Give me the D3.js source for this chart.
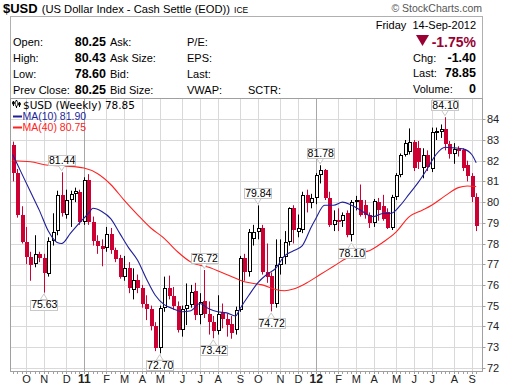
<!DOCTYPE html>
<html>
<head>
<meta charset="utf-8">
<script src="https://cdn.jsdelivr.net/npm/d3@7"></script>
<style>
  body { margin: 0; background: #fff; }
  svg { display: block; }
</style>
</head>
<body>
<div id="chart"></div>
<script>
// weekly bars, week of 13-Sep-2010 .. week of 10-Sep-2012
var opens = [82.76,81.42,79.40,78.09,77.33,76.99,77.48,77.30,76.55,78.10,
             78.60,80.34,79.40,80.10,80.38,80.50,79.05,81.07,79.05,78.10,
             77.90,77.80,78.48,77.70,77.30,76.40,76.80,75.75,76.24,75.85,
             75.10,74.85,74.00,72.93,74.87,75.83,75.45,75.00,73.82,74.82,
             75.03,75.70,74.55,75.20,74.60,74.20,73.75,74.70,74.35,74.10,
             73.82,74.80,77.28,76.64,78.20,78.57,78.73,76.64,76.43,75.10,
             76.96,77.35,78.09,79.70,78.57,78.65,80.34,79.94,80.18,81.30,
             81.55,80.20,78.90,79.13,79.10,79.45,78.40,80.00,80.10,79.85,
             79.38,79.00,80.00,79.80,79.50,78.75,80.26,81.30,82.27,82.44,
             82.90,82.60,81.65,82.27,81.60,83.37,83.40,83.55,82.80,82.30,
             82.55,82.50,81.80,81.25,80.25];
var highs = [82.92,81.60,79.80,78.80,77.60,78.40,77.60,77.50,78.30,79.46,
             80.55,81.44,80.60,80.55,80.70,80.60,81.20,81.35,79.30,78.40,
             78.20,78.80,78.75,77.80,77.45,77.40,77.10,76.80,76.50,76.00,
             75.50,75.00,74.20,75.00,76.40,76.45,75.90,75.20,75.00,76.07,
             76.00,76.10,75.60,76.72,75.20,74.50,75.50,75.10,74.60,74.50,
             74.95,77.40,77.50,78.70,78.90,79.84,78.90,78.00,76.60,78.20,
             78.20,78.60,79.75,79.85,79.40,80.50,80.60,80.40,81.40,81.78,
             81.60,80.50,79.60,79.70,79.50,79.60,80.10,80.30,80.85,80.10,
             79.50,80.15,80.20,80.35,79.70,80.35,81.40,82.35,83.00,83.56,
             83.00,82.95,82.60,82.50,83.60,83.60,83.75,84.10,82.95,82.85,
             82.70,82.60,82.00,81.40,80.43];
var lows  = [81.00,79.25,78.00,77.00,76.20,76.85,77.10,75.63,76.40,77.90,
             78.40,79.30,79.20,78.80,80.00,78.90,78.90,78.90,77.90,77.50,
             76.90,77.60,77.50,77.10,76.30,76.20,75.60,75.30,75.60,74.90,
             74.30,73.80,72.80,72.70,74.70,75.30,74.80,73.70,73.50,74.06,
             74.90,74.30,74.10,74.40,73.60,73.42,73.60,73.90,73.50,73.40,
             73.60,74.70,76.20,76.40,77.90,78.20,76.50,76.10,74.72,74.90,
             76.50,77.00,77.90,78.00,78.30,78.50,79.50,79.70,79.90,80.90,
             80.10,78.80,78.60,78.60,78.80,78.30,78.10,79.60,79.30,79.20,
             78.75,78.80,79.10,79.10,78.70,78.65,80.10,81.20,82.20,82.30,
             81.50,81.60,81.15,81.50,81.45,83.00,83.10,82.50,82.10,81.85,
             82.20,81.50,81.00,80.00,78.60];
var closes = [81.42,79.38,78.09,77.33,76.95,77.48,77.30,76.56,78.10,78.55,
             80.34,79.46,80.10,80.37,80.55,79.05,81.07,79.05,78.10,77.90,
             77.75,78.48,77.68,77.27,76.40,76.80,75.85,76.24,75.85,75.10,
             74.85,74.00,72.93,74.87,75.83,75.45,75.00,73.82,74.85,75.03,
             75.67,74.55,75.19,74.60,74.20,73.75,74.60,74.35,74.05,73.66,
             74.80,77.28,76.64,78.57,78.57,78.73,76.64,76.40,75.10,76.96,
             77.35,78.09,79.70,78.65,78.73,80.34,79.94,80.18,81.30,81.55,
             80.20,78.90,79.13,79.10,79.37,78.40,80.00,80.10,79.40,79.38,
             79.00,80.05,79.60,79.20,78.75,80.26,81.30,82.27,82.84,82.90,
             81.65,81.95,82.27,81.70,83.40,83.45,83.55,82.80,82.30,82.55,
             82.45,81.65,81.25,80.25,78.85];

// moving averages (bar index, value)
var ma10Idx = [0,2,4,6,8,10,11,13,15,17,18,20,22,24,26,28,30,32,34,36,38,40,42,44,46,
               48,50,51,53,55,57,59,61,63,65,67,68,70,72,74,76,78,80,81,83,85,87,89,
               91,93,95,97,99,101,103,104];
var ma10Val = [82.30,81.40,80.50,79.60,78.60,78.05,78.00,78.50,79.00,79.45,79.70,79.55,
               79.20,78.50,77.80,77.20,76.30,75.50,75.05,74.85,74.70,74.75,75.10,74.85,
               74.70,74.65,74.50,74.85,75.50,76.10,76.50,76.80,77.40,77.65,77.90,78.80,
               79.20,79.85,79.85,80.00,79.85,79.62,79.35,79.30,79.45,79.46,79.85,80.40,
               80.95,81.60,82.30,82.65,82.62,82.57,82.30,81.90];
var ma40Idx = [0,4,8,12,16,19,22,25,28,31,34,37,40,44,48,52,56,59,61,63,66,69,72,75,
               78,80,83,86,89,92,94,97,100,102,104];
var ma40Val = [82.00,81.95,81.78,81.74,81.65,81.38,80.85,80.10,79.40,78.75,78.25,77.60,
               77.10,76.85,76.50,76.15,76.00,75.78,75.72,75.80,76.10,76.50,76.90,77.30,
               77.55,77.65,78.05,78.55,79.30,79.62,79.85,80.30,80.70,80.78,80.75];

var monthIdx = [3,7,12,16,21,25,29,33,38,42,46,51,55,60,64,68,73,77,81,86,90,94,99,103];
var monthLabels = ["O","N","D","11","F","M","A","M","J","J","A","S",
                   "O","N","D","12","F","M","A","M","J","J","A","S"];
var yTicks = [72,73,74,75,76,77,78,79,80,81,82,83,84];
var peakIdx = [11,43,55,69,97];
var troughIdx = [7,33,45,58,76];

var w = 508, h = 389;
var pLeft = 10.5, pRight = 482.5, pTop = 98.5, pBottom = 371.5;
var red = "#cc0033";
var sans = "'Liberation Sans', Arial, sans-serif";

var svg = d3.select("#chart").append("svg")
  .attr("width", w)
  .attr("height", h);

var x = d3.scaleLinear().domain([0, closes.length - 1]).range([12.63, 476.2]);
var y = d3.scaleLinear().domain([72, 84]).range([367.7, 119.3]);

// ---- title + header box
var title = svg.append("text").attr("x", 3).attr("y", 13)
  .attr("font-family", sans).attr("fill", "#000");
title.append("tspan").attr("font-size", "13px").attr("font-weight", "bold").text("$USD");
title.append("tspan").attr("font-size", "11.2px").attr("dx", 4).text("(US Dollar Index - Cash Settle (EOD))");
title.append("tspan").attr("font-size", "8.5px").attr("dx", 4).text("ICE");

svg.append("text").attr("x", 482).attr("y", 12)
  .attr("text-anchor", "end").attr("font-family", sans).attr("font-size", "10.5px")
  .attr("fill", "#555").text("\u00A9 StockCharts.com");

svg.append("rect").attr("x", pLeft).attr("y", 16.5)
  .attr("width", pRight - pLeft).attr("height", pTop - 16.5)
  .attr("fill", "#fff").attr("stroke", "#b0b0b0");

var rows = [46, 62, 78, 94];
var col1 = ["Open:", "High:", "Low:", "Prev Close:"];
var col1v = ["80.25", "80.43", "78.60", "80.25"];
var col2 = ["Ask:", "Ask Size:", "Bid:", "Bid Size:"];
var col3 = ["P/E:", "EPS:", "Last:", "VWAP:"];

var head = svg.append("g").attr("font-family", sans).attr("font-size", "11px").attr("fill", "#000");
rows.forEach(function(ry, k) {
  head.append("text").attr("x", 13).attr("y", ry).text(col1[k]);
  head.append("text").attr("x", 106).attr("y", ry).attr("text-anchor", "end")
    .attr("font-weight", "bold").attr("font-size", "12.5px").text(col1v[k]);
  head.append("text").attr("x", 110).attr("y", ry).text(col2[k]);
  head.append("text").attr("x", 187).attr("y", ry).text(col3[k]);
});
head.append("text").attr("x", 248).attr("y", 94).text("SCTR:");

head.append("text").attr("x", 476).attr("y", 29).attr("text-anchor", "end")
  .attr("xml:space", "preserve").text("Friday  14-Sep-2012");
head.append("path")
  .attr("d", "M416,35 L429,35 L422.5,46 Z").attr("fill", "#990033");
head.append("text").attr("x", 476).attr("y", 46.5).attr("text-anchor", "end")
  .attr("font-weight", "bold").attr("font-size", "14px").attr("fill", "#990033").text("-1.75%");
[["Chg:", "-1.40", 61.5], ["Last:", "78.85", 77], ["Volume:", "0", 92.5]].forEach(function(r) {
  head.append("text").attr("x", 413).attr("y", r[2]).text(r[0]);
  head.append("text").attr("x", 476).attr("y", r[2]).attr("text-anchor", "end")
    .attr("font-weight", "bold").attr("font-size", "12.5px").text(r[1]);
});

// ---- plot frame + grid
var plot = svg.append("g");
plot.append("rect").attr("x", pLeft).attr("y", pTop)
  .attr("width", pRight - pLeft).attr("height", pBottom - pTop).attr("fill", "#fff");

plot.selectAll(".hgrid").data(yTicks).enter().append("line")
  .attr("x1", pLeft).attr("x2", pRight)
  .attr("y1", function(d) { return Math.round(y(d)) + 0.5; })
  .attr("y2", function(d) { return Math.round(y(d)) + 0.5; })
  .attr("stroke", "#d9d9d9");

plot.selectAll(".vgrid").data(monthIdx).enter().append("line")
  .attr("x1", function(d) { return Math.round(x(d)) + 0.5; })
  .attr("x2", function(d) { return Math.round(x(d)) + 0.5; })
  .attr("y1", pTop).attr("y2", pBottom)
  .attr("stroke", function(d, i) { return monthLabels[i].length > 1 ? "#a8a8a8" : "#d9d9d9"; });

plot.append("rect").attr("x", pLeft).attr("y", pTop)
  .attr("width", pRight - pLeft).attr("height", pBottom - pTop)
  .attr("fill", "none").attr("stroke", "#a0a0a0");

// right axis
var yAxis = svg.append("g").attr("font-family", sans).attr("font-size", "11px").attr("fill", "#222");
yAxis.selectAll("line").data(yTicks).enter().append("line")
  .attr("x1", pRight).attr("x2", pRight + 3)
  .attr("y1", function(d) { return Math.round(y(d)) + 0.5; })
  .attr("y2", function(d) { return Math.round(y(d)) + 0.5; })
  .attr("stroke", "#a0a0a0");
yAxis.selectAll("text").data(yTicks).enter().append("text")
  .attr("x", 487).attr("y", function(d) { return y(d) + 4; })
  .text(function(d) { return d; });

// bottom axis: weekly ticks + month labels
var xAxis = svg.append("g");
xAxis.selectAll("line").data(d3.range(closes.length)).enter().append("line")
  .attr("x1", function(d) { return Math.round(x(d)) + 0.5; })
  .attr("x2", function(d) { return Math.round(x(d)) + 0.5; })
  .attr("y1", pBottom).attr("y2", pBottom + 2.5)
  .attr("stroke", "#a0a0a0");
xAxis.selectAll("text").data(monthIdx).enter().append("text")
  .attr("x", function(d) { return x(d) + 0.5; })
  .attr("y", 383)
  .attr("text-anchor", "middle")
  .attr("font-family", sans)
  .attr("font-size", function(d, i) { return monthLabels[i].length > 1 ? "12px" : "11px"; })
  .attr("font-weight", function(d, i) { return monthLabels[i].length > 1 ? "bold" : "normal"; })
  .attr("fill", "#222")
  .text(function(d, i) { return monthLabels[i]; });

// ---- candles
svg.append("clipPath").attr("id", "clip").append("rect")
  .attr("x", pLeft).attr("y", pTop).attr("width", pRight - pLeft).attr("height", pBottom - pTop);
var marks = svg.append("g").attr("clip-path", "url(#clip)");

var bars = d3.range(closes.length).map(function(i) {
  return { i: i, o: opens[i], h: highs[i], l: lows[i], c: closes[i] };
});
var isUp = function(d) { return d.c >= d.o; };

var candle = marks.selectAll(".candle").data(bars).enter().append("g");
candle.append("line")
  .attr("x1", function(d) { return Math.round(x(d.i)) + 0.5; })
  .attr("x2", function(d) { return Math.round(x(d.i)) + 0.5; })
  .attr("y1", function(d) { return y(d.h); })
  .attr("y2", function(d) { return y(d.l); })
  .attr("stroke", function(d) { return isUp(d) ? "#000" : red; })
  .attr("stroke-width", 1);
candle.append("rect")
  .attr("x", function(d) { return Math.round(x(d.i)) - (isUp(d) ? 0.5 : 1); })
  .attr("width", function(d) { return isUp(d) ? 3 : 4; })
  .attr("y", function(d) {
    var t = Math.round(y(Math.max(d.o, d.c)));
    return isUp(d) ? t + 0.5 : t;
  })
  .attr("height", function(d) {
    var t = Math.round(y(Math.max(d.o, d.c))), b = Math.round(y(Math.min(d.o, d.c)));
    var hh = Math.max(2, b - t);
    return isUp(d) ? hh - 1 : hh;
  })
  .attr("fill", function(d) { return isUp(d) ? "#fff" : red; })
  .attr("stroke", function(d) { return isUp(d) ? "#000" : "none"; })
  .attr("stroke-width", 1);

// ---- moving averages
var maLine = d3.line()
  .x(function(d) { return x(d[0]); })
  .y(function(d) { return y(d[1]); })
  .curve(d3.curveMonotoneX);

marks.append("path")
  .attr("d", maLine(d3.zip(ma40Idx, ma40Val)))
  .attr("fill", "none").attr("stroke", "#ff2222").attr("stroke-width", 1.1);
marks.append("path")
  .attr("d", maLine(d3.zip(ma10Idx, ma10Val)))
  .attr("fill", "none").attr("stroke", "#1f1f9a").attr("stroke-width", 1.1);

// ---- high / low annotations
var notes = svg.append("g").attr("font-family", sans).attr("font-size", "10.5px");
function note(i, val, isPeak) {
  var cx = x(i), py = y(val);
  var txt = val.toFixed(2);
  var bw = 27, bh = 10;
  var by = isPeak ? py - 7 - bh : py + 7;
  var edge = isPeak ? by + bh : by;
  var tip = isPeak ? py - 1.5 : py + 1.5;
  notes.append("path")
    .attr("d", "M" + (cx - 3.5) + "," + edge + " L" + (cx + 3.5) + "," + edge + " L" + cx + "," + tip + " Z")
    .attr("fill", "#fff").attr("stroke", "#c8c8c8");
  notes.append("rect")
    .attr("x", Math.round(cx - bw / 2) + 0.5).attr("y", Math.round(by) + 0.5)
    .attr("width", bw).attr("height", bh)
    .attr("fill", "#fff").attr("stroke", "#c8c8c8");
  notes.append("text")
    .attr("x", cx + 0.5).attr("y", by + bh - 1.2)
    .attr("text-anchor", "middle").attr("fill", "#000")
    .text(txt);
}
peakIdx.forEach(function(i) { note(i, highs[i], true); });
troughIdx.forEach(function(i) { note(i, lows[i], false); });

// ---- legend
var lg = svg.append("g").attr("font-family", "'DejaVu Sans', Verdana, sans-serif").attr("font-size", "10.5px");
// little candlestick glyph
[[13.5, 101, 106, 102, 104], [16.5, 100, 108, 101, 106], [19.5, 102, 107, 103, 105]].forEach(function(g, k) {
  lg.append("line").attr("x1", g[0]).attr("x2", g[0]).attr("y1", g[1]).attr("y2", g[2]).attr("stroke", "#000");
  lg.append("rect").attr("x", g[0] - 1).attr("y", g[3]).attr("width", 2).attr("height", g[4] - g[3])
    .attr("fill", k == 1 ? "#fff" : "#000").attr("stroke", "#000").attr("stroke-width", 0.6);
});
lg.append("text").attr("x", 23).attr("y", 108.5).attr("fill", "#000")
  .text("$USD (Weekly) " + closes[closes.length - 1].toFixed(2));

var lg2 = svg.append("g").attr("font-family", sans).attr("font-size", "10.5px");
[["MA(10) 81.90", "#1f1f9a", 119.5], ["MA(40) 80.75", "#ff2222", 130.5]].forEach(function(r) {
  lg2.append("line").attr("x1", 13).attr("x2", 22).attr("y1", r[2] - 3).attr("y2", r[2] - 3)
    .attr("stroke", r[1]).attr("stroke-width", 2);
  lg2.append("text").attr("x", 22.5).attr("y", r[2]).attr("fill", r[1]).text(r[0]);
});
</script>
</body>
</html>
